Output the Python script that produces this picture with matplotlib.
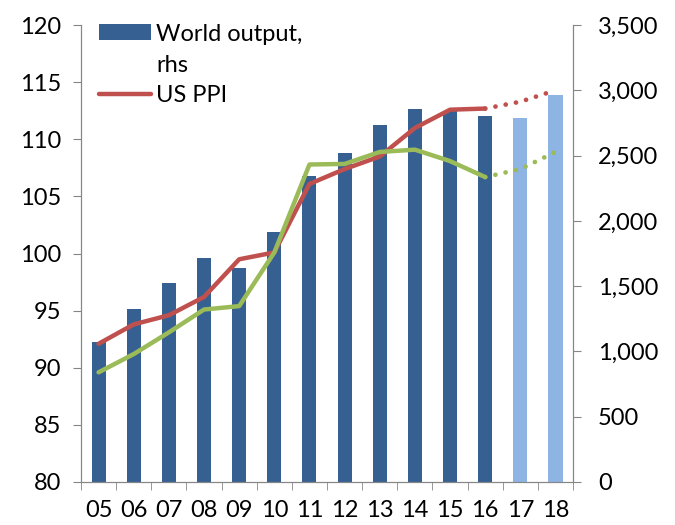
import numpy as np
import matplotlib.pyplot as plt
from matplotlib.lines import Line2D
from matplotlib.ticker import FuncFormatter

years = ['05', '06', '07', '08', '09', '10', '11', '12', '13', '14', '15', '16', '17', '18']
world_output = [1072, 1328, 1528, 1718, 1636, 1915, 2346, 2520, 2733, 2856, 2844, 2803, 2792, 2964]
n_actual = 12  # 17 and 18 are forecasts

us_ppi = [92.1, 93.8, 94.6, 96.2, 99.5, 100.1, 106.1, 107.4, 108.5, 111.0, 112.6, 112.7]
us_ppi_fc = [112.7, 113.3, 114.3]
green = [89.6, 91.2, 93.1, 95.1, 95.4, 100.1, 107.8, 107.85, 108.9, 109.1, 108.1, 106.7]
green_fc = [106.7, 107.4, 108.9]

DARK = '#376092'
LIGHT = '#8EB4E3'
RED = '#C0504D'
GREEN = '#9BBB59'
GREY = '#868686'
FS = 17

plt.rcParams['font.family'] = ['Lato', 'DejaVu Sans']

fig = plt.figure(figsize=(6.75, 5.25), dpi=100)
ax = fig.add_axes([0.12, 0.082, 0.729, 0.870])
ax2 = ax.twinx()

x = np.arange(len(years))
colors = [DARK] * n_actual + [LIGHT] * (len(years) - n_actual)
bars = ax2.bar(x, world_output, width=0.4, color=colors, zorder=2)
ax2.set_ylim(0, 3500)
ax2.set_yticks(np.arange(0, 3501, 500))
ax2.yaxis.set_major_formatter(FuncFormatter(lambda v, p: f'{int(v):,}'))

xa = x[:n_actual]
xf = x[n_actual - 1:]
ppi_line, = ax.plot(xa, us_ppi, color=RED, lw=3.2, solid_capstyle='round', zorder=3)
ax.plot(xa, green, color=GREEN, lw=3.2, solid_capstyle='round', zorder=3)
ax.plot(xf, us_ppi_fc, color=RED, lw=3.4, linestyle=(0, (0.01, 2.2)),
        dash_capstyle='round', zorder=3)
ax.plot(xf, green_fc, color=GREEN, lw=3.4, linestyle=(0, (0.01, 2.2)),
        dash_capstyle='round', zorder=3)

ax.set_zorder(ax2.get_zorder() + 1)
ax.patch.set_visible(False)

ax.set_ylim(80, 120)
ax.set_yticks(np.arange(80, 121, 5))
ax.set_xlim(-0.5, len(years) - 0.5)
ax.set_xticks(x)
ax.set_xticklabels(years)
ax.set_xticks(np.arange(-0.5, len(years), 1), minor=True)

for a in (ax, ax2):
    a.spines['top'].set_visible(False)
    for s in ('left', 'right', 'bottom'):
        a.spines[s].set_color(GREY)
    a.tick_params(axis='y', which='major', length=6, color=GREY, labelsize=FS, pad=8)
ax.tick_params(axis='x', which='major', length=0, labelsize=FS, pad=13)
ax.tick_params(axis='x', which='minor', length=6, color=GREY)
ax2.tick_params(axis='y', labelsize=FS, pad=12)

blank = Line2D([], [], color='none')
ax.legend([bars[0], blank, ppi_line], ['World output,', 'rhs', 'US PPI'],
          loc='upper left', bbox_to_anchor=(0.147, 0.955), bbox_transform=fig.transFigure,
          frameon=False, fontsize=FS, handlelength=2.2, handleheight=0.65,
          handletextpad=0.2, labelspacing=0.42, borderpad=0, borderaxespad=0)

fig.savefig('out.png', dpi=100, facecolor='white')
